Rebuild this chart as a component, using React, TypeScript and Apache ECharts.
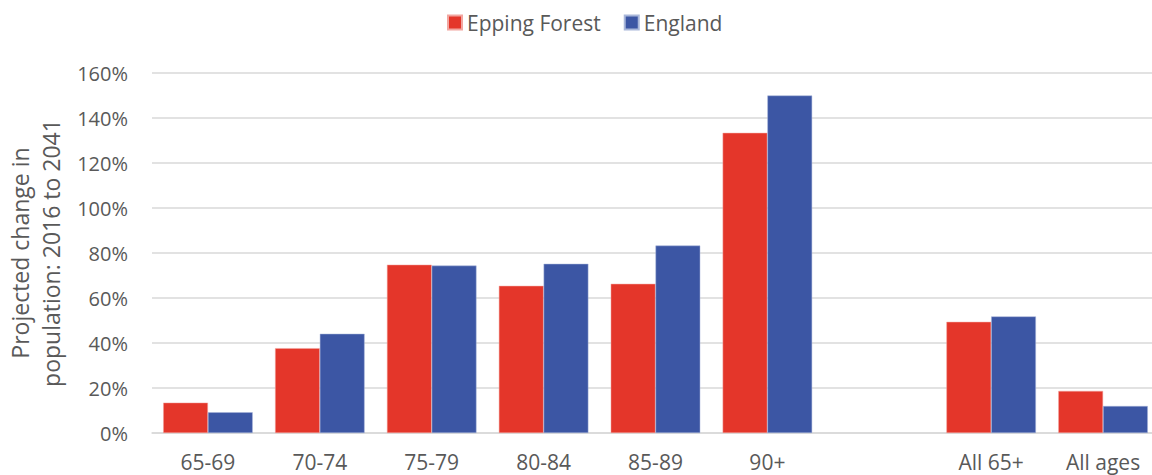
import React, { useEffect, useRef } from "react";
import * as echarts from "echarts";

const categories = ["65-69", "70-74", "75-79", "80-84", "85-89", "90+", "", "All 65+", "All ages"];
const eppingForest = [13.5, 37.7, 74.8, 65.4, 66.3, 133.4, null, 49.4, 18.7];
const england = [9.2, 44.1, 74.4, 75.2, 83.3, 150.0, null, 51.8, 12.0];
const seriesNames = ["Epping Forest", "England"];
const yTicks = { min: 0, max: 160, interval: 20 };

const FONT = "'Open Sans', sans-serif";
const TEXT = "#595959";

export default function App() {
  const ref = useRef<HTMLDivElement>(null);
  useEffect(() => {
    document.body.style.margin = "0";
    const chart = echarts.init(ref.current!, null, { renderer: "svg" });
    chart.setOption({
      animation: false,
      textStyle: { fontFamily: FONT },
      legend: {
        top: 7,
        left: 442,
        itemWidth: 14,
        itemHeight: 14,
        itemGap: 23,
        icon: "rect",
        textStyle: { fontSize: 21, color: TEXT, fontFamily: FONT },
        data: seriesNames,
      },
      grid: {
        left: 152,
        right: -7,
        top: 73,
        bottom: 42,
        containLabel: false,
        outerBoundsMode: "none",
      },
      xAxis: {
        type: "category",
        data: categories,
        axisLine: { lineStyle: { color: "#D9D9D9", width: 1.5 } },
        axisTick: { show: false },
        axisLabel: { fontSize: 21, color: TEXT, margin: 18, fontFamily: FONT, interval: 0 },
      },
      yAxis: {
        type: "value",
        min: yTicks.min,
        max: yTicks.max,
        interval: yTicks.interval,
        name: "Projected change in\npopulation: 2016 to 2041",
        nameLocation: "middle",
        nameGap: 77,
        nameRotate: 90,
        nameTextStyle: { fontSize: 23, color: TEXT, fontFamily: FONT, lineHeight: 31 },
        axisLabel: { fontSize: 20, color: TEXT, margin: 24, formatter: "{value}%", fontFamily: FONT },
        splitLine: { lineStyle: { color: "#D9D9D9", width: 1.5 } },
        axisLine: { show: false },
        axisTick: { show: false },
      },
      series: [
        {
          name: seriesNames[0],
          type: "bar",
          data: eppingForest,
          barGap: "0%",
          barCategoryGap: "20%",
          itemStyle: { color: "#E4362A", borderColor: "#F2A6A0", borderWidth: 0.5 },
        },
        {
          name: seriesNames[1],
          type: "bar",
          data: england,
          barGap: "0%",
          barCategoryGap: "20%",
          itemStyle: { color: "#3C56A4", borderColor: "#A9B7DA", borderWidth: 0.5 },
        },
      ],
    });
    return () => chart.dispose();
  }, []);
  return <div ref={ref} style={{ width: 1152, height: 475 }} />;
}
